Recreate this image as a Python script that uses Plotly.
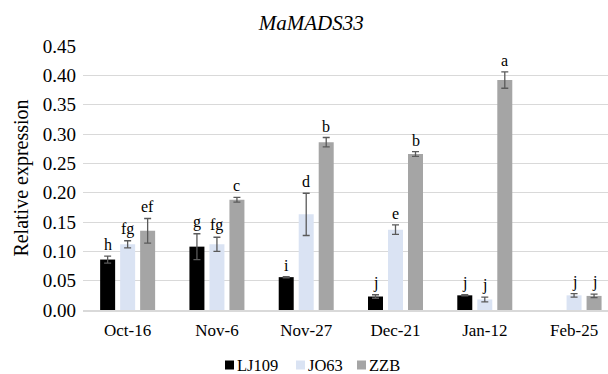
import plotly.graph_objects as go

# Sampling dates
dates = ["Oct-16", "Nov-6", "Nov-27", "Dec-21", "Jan-12", "Feb-25"]

# Relative expression per cultivar (mean, error)
lj109 = [0.086, 0.108, 0.056, 0.023, 0.025, None]
lj109_err = [0.006, 0.022, 0.001, 0.003, 0.001, 0]
jo63 = [0.112, 0.112, 0.163, 0.137, 0.018, 0.025]
jo63_err = [0.006, 0.012, 0.036, 0.008, 0.004, 0.003]
zzb = [0.135, 0.188, 0.286, 0.266, 0.392, 0.024]
zzb_err = [0.021, 0.004, 0.008, 0.004, 0.014, 0.003]

# Significance letters
lj109_sig = ["h", "g", "i", "j", "j", ""]
jo63_sig = ["fg", "fg", "d", "e", "j", "j"]
zzb_sig = ["ef", "c", "b", "b", "a", "j"]

y_ticks = [0.00, 0.05, 0.10, 0.15, 0.20, 0.25, 0.30, 0.35, 0.40, 0.45]

series = [
    ("LJ109", lj109, lj109_err, lj109_sig, "#000000", -20),
    ("JO63", jo63, jo63_err, jo63_sig, "#dae3f3", 0),
    ("ZZB", zzb, zzb_err, zzb_sig, "#a5a5a5", 20),
]

SERIF = "Liberation Serif, DejaVu Serif, serif"
ERR_COLOR = "#5a5a5a"

W, H = 608, 374
ML, MR, MT, MB = 83, 0, 46, 64
PLOT_W = W - ML - MR
PLOT_H = H - MT - MB


def px_to_paper(px):
    return (px - ML) / PLOT_W


fig = go.Figure()
annotations = []
shapes = []
for name, vals, errs, sig, color, dx in series:
    fig.add_trace(go.Bar(
        name=name,
        x=list(range(len(dates))),
        y=vals,
        marker=dict(color=color, line=dict(width=0)),
        error_y=dict(type="data", array=errs, visible=True,
                     color=ERR_COLOR, thickness=1.3, width=3.5),
        showlegend=False,
    ))
    for i, (v, e, s) in enumerate(zip(vals, errs, sig)):
        if v is None or not s:
            continue
        annotations.append(dict(
            x=i, y=v + e, xref="x", yref="y", text=s, showarrow=False,
            xshift=dx, yshift=1, yanchor="bottom",
            font=dict(family=SERIF, size=16, color="#000000"),
        ))

# Legend row below the axis: colour swatch followed by series name
legend_left = [225, 296, 357]
legend_y = -(365 - (MT + PLOT_H)) / PLOT_H
for (name, _, _, _, color, _), left in zip(series, legend_left):
    shapes.append(dict(
        type="rect", xref="paper", yref="paper",
        x0=px_to_paper(left), x1=px_to_paper(left + 9),
        y0=legend_y - 4.5 / PLOT_H, y1=legend_y + 4.5 / PLOT_H,
        fillcolor=color, line=dict(width=0),
    ))
    annotations.append(dict(
        x=px_to_paper(left + 10), y=legend_y, xref="paper", yref="paper",
        text=name, showarrow=False, xanchor="left", yanchor="middle",
        font=dict(family=SERIF, size=16.5, color="#000000"),
    ))

fig.update_layout(
    width=W, height=H,
    margin=dict(l=ML, r=MR, t=MT, b=MB),
    paper_bgcolor="white", plot_bgcolor="white",
    barmode="group", bargap=0.328, bargroupgap=0.25,
    title=dict(text="<i>MaMADS33</i>", x=0.512, xanchor="center",
               y=0.94, yanchor="middle",
               font=dict(family=SERIF, size=21, color="#000000")),
    font=dict(family=SERIF, color="#000000"),
    showlegend=False,
    annotations=annotations,
    shapes=shapes,
)
fig.update_xaxes(
    tickmode="array", tickvals=list(range(len(dates))), ticktext=dates,
    range=[-0.5, 5.38], showgrid=False, showline=True,
    linecolor="#d9d9d9", linewidth=1.5, ticks="", ticklabelstandoff=4,
    tickfont=dict(family=SERIF, size=17, color="#000000"),
)
fig.update_yaxes(
    range=[0, 0.45], tickvals=y_ticks, tickformat=".2f",
    showgrid=True, gridcolor="#d9d9d9", gridwidth=1.3, zeroline=False,
    showline=False, ticks="", ticklabelstandoff=6,
    tickfont=dict(family=SERIF, size=19, color="#000000"),
    title=dict(text="Relative expression", standoff=8,
               font=dict(family=SERIF, size=20, color="#000000")),
)

fig.write_html("out.html")
